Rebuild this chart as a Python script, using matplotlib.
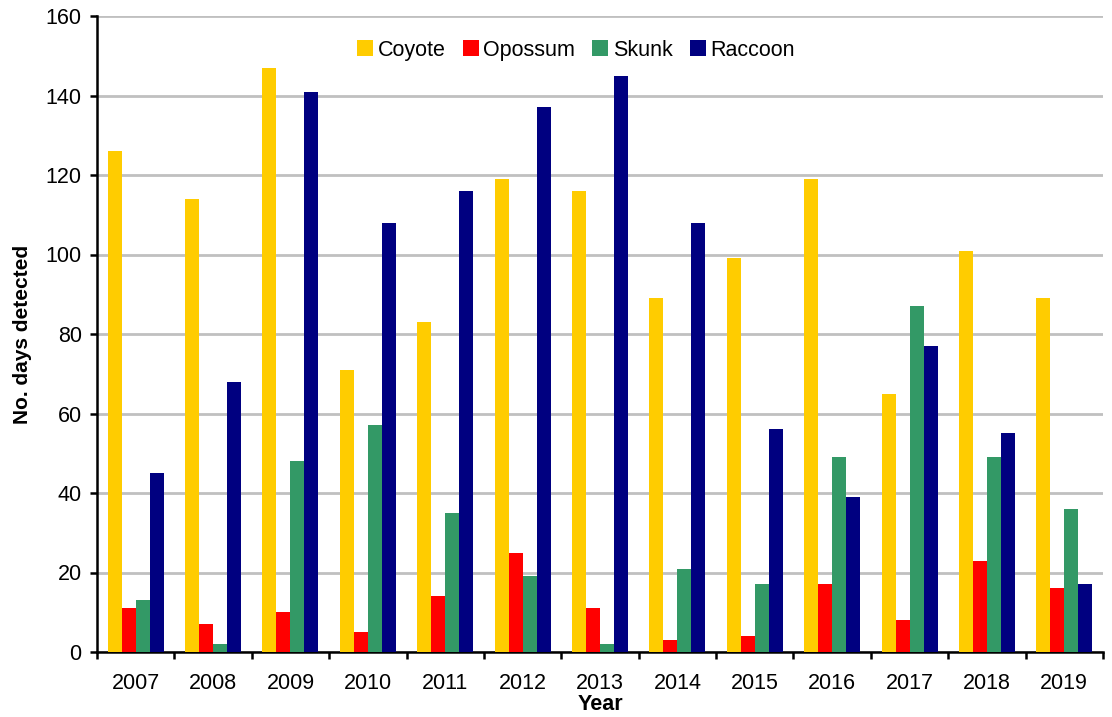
import matplotlib
matplotlib.use("Agg")
import matplotlib.pyplot as plt
import numpy as np

years = ["2007", "2008", "2009", "2010", "2011", "2012", "2013",
         "2014", "2015", "2016", "2017", "2018", "2019"]
coyote = [126, 114, 147, 71, 83, 119, 116, 89, 99, 119, 65, 101, 89]
opossum = [11, 7, 10, 5, 14, 25, 11, 3, 4, 17, 8, 23, 16]
skunk = [13, 2, 48, 57, 35, 19, 2, 21, 17, 49, 87, 49, 36]
raccoon = [45, 68, 141, 108, 116, 137, 145, 108, 56, 39, 77, 55, 17]

series = [("Coyote", coyote, "#FFCC00"),
          ("Opossum", opossum, "#FF0000"),
          ("Skunk", skunk, "#339966"),
          ("Raccoon", raccoon, "#000080")]

plt.rcParams['font.family'] = ['Liberation Sans', 'DejaVu Sans']

fig = plt.figure(figsize=(11.12, 7.17), dpi=100)
ax = fig.add_axes([97/1112, 65/717, 1006/1112, 636/717])

x = np.arange(len(years))
w = 0.181
for k, (name, vals, col) in enumerate(series):
    ax.bar(x + (k - 1.5) * w, vals, width=w, color=col, label=name, zorder=3)

ax.set_xlim(-0.5, len(years) - 0.5)
ax.set_ylim(0, 160)
ax.set_yticks(np.arange(0, 161, 20))
ax.yaxis.grid(True, color="#C0C0C0", linewidth=2, zorder=0)
ax.set_axisbelow(True)

ax.set_xticks(x)
ax.set_xticklabels(years)
ax.set_xticks(np.arange(-0.5, len(years), 1), minor=True)
ax.tick_params(axis='x', which='major', length=0, pad=15, labelsize=15.5)
ax.tick_params(axis='x', which='minor', length=5, width=1.8, direction='out')
ax.tick_params(axis='y', length=5, width=1.8, direction='out', labelsize=15.5, pad=6)

for s in ['top', 'right']:
    ax.spines[s].set_visible(False)
for s in ['left', 'bottom']:
    ax.spines[s].set_linewidth(1.8)
    ax.spines[s].set_color('black')

ax.set_xlabel("Year", fontsize=15.5, fontweight='bold', labelpad=0)
ax.set_ylabel("No. days detected", fontsize=15, fontweight='bold', labelpad=10)

ax.legend(loc='center', bbox_to_anchor=(0.476, 0.9465), ncol=4, frameon=False,
          fontsize=15.5, handlelength=0.75, handleheight=0.75, handletextpad=0.2,
          columnspacing=0.8)

fig.savefig("out.png", dpi=100)
